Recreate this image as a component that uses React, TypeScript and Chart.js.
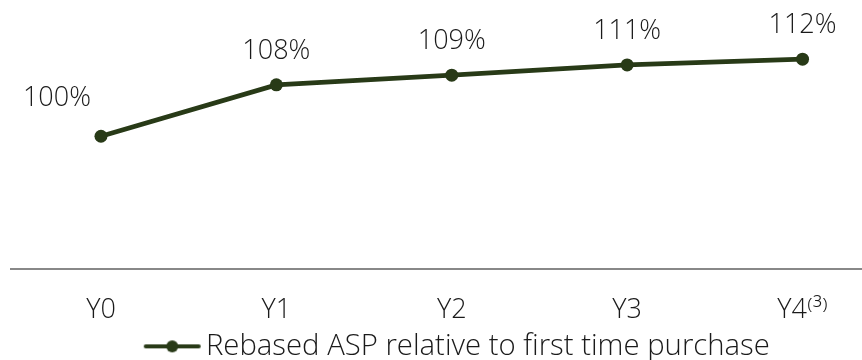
import React, { useEffect, useRef } from "react";
import { Chart, registerables } from "chart.js";

Chart.register(...registerables);

const categories = ["Y0", "Y1", "Y2", "Y3", "Y4\u207D\u00B3\u207E"];
const values = [100, 108, 109.5, 111.1, 112.0];
const valueLabels = ["100%", "108%", "109%", "111%", "112%"];
const seriesName = "Rebased ASP relative to first time purchase";

const LINE_COLOR = "#283a17";
const TEXT_COLOR = "#1a1a1a";
const FONT_FAMILY = "'Open Sans', 'DejaVu Sans', sans-serif";

function makeLegendSymbol(): HTMLCanvasElement {
  const c = document.createElement("canvas");
  c.width = 59;
  c.height = 14;
  const ctx = c.getContext("2d")!;
  ctx.strokeStyle = LINE_COLOR;
  ctx.lineWidth = 4;
  ctx.lineCap = "round";
  ctx.beginPath();
  ctx.moveTo(3, 7);
  ctx.lineTo(56, 7);
  ctx.stroke();
  ctx.fillStyle = LINE_COLOR;
  ctx.beginPath();
  ctx.arc(29.5, 7, 6, 0, Math.PI * 2);
  ctx.fill();
  return c;
}

const valueLabelPlugin = {
  id: "valueLabels",
  afterLayout(chart: any) {
    // nudge the legend row to sit where the reference places it
    if (chart.legend) {
      chart.legend.left += 25;
      chart.legend.right += 25;
    }
  },
  afterDatasetsDraw(chart: any) {
    const meta = chart.getDatasetMeta(0);
    const ctx = chart.ctx;
    ctx.save();
    ctx.font = `300 27px ${FONT_FAMILY}`;
    ctx.fillStyle = TEXT_COLOR;
    ctx.textAlign = "center";
    ctx.textBaseline = "middle";
    meta.data.forEach((pt: any, i: number) => {
      const dx = i === 0 ? -44 : 0;
      const dy = i === 0 ? 38 : 34;
      ctx.fillText(valueLabels[i], pt.x + dx, pt.y - dy);
    });
    ctx.restore();
  },
};

export default function App() {
  const ref = useRef<HTMLCanvasElement | null>(null);
  useEffect(() => {
    document.body.style.margin = "0";
    const canvas = ref.current;
    if (!canvas) return;
    const symbol = makeLegendSymbol();
    const chart = new Chart(canvas, {
      type: "line",
      data: {
        datasets: [
          {
            label: seriesName,
            data: values.map((v, i) => ({ x: i, y: v })),
            borderColor: LINE_COLOR,
            backgroundColor: LINE_COLOR,
            borderWidth: 4.8,
            pointRadius: 6.5,
            pointHoverRadius: 6.5,
            pointBackgroundColor: LINE_COLOR,
            pointBorderWidth: 0,
            tension: 0,
          },
        ],
      },
      options: {
        responsive: true,
        maintainAspectRatio: false,
        animation: false,
        layout: { autoPadding: false, padding: { top: 0, left: 11, right: 0, bottom: -11 } },
        plugins: {
          legend: {
            position: "bottom",
            labels: {
              usePointStyle: true,
              pointStyle: symbol as any,
              pointStyleWidth: 38,
              color: TEXT_COLOR,
              font: { family: FONT_FAMILY, size: 29.3, weight: "300" as any },
              padding: 0,
            },
          },
          tooltip: { enabled: false },
        },
        scales: {
          x: {
            type: "linear",
            min: -0.513,
            max: 4.339,
            grid: { display: false, drawTicks: false },
            border: { display: true, color: "#888888", width: 2 },
            afterBuildTicks: (scale: any) => {
              scale.ticks = categories.map((_, i) => ({ value: i }));
            },
            afterFit: (scale: any) => {
              scale.height = 63;
            },
            ticks: {
              color: TEXT_COLOR,
              font: { family: FONT_FAMILY, size: 27, weight: "300" as any, lineHeight: 1.0 },
              padding: 28,
              maxRotation: 0,
              autoSkip: false,
              callback: (v: any) => categories[Number(v)] ?? "",
            },
          },
          y: {
            display: false,
            min: 79.4,
            max: 121.2,
          },
        },
      },
      plugins: [valueLabelPlugin],
    });
    return () => chart.destroy();
  }, []);
  return (
    <div style={{ position: "relative", width: 862, height: 360 }}>
      <canvas ref={ref} />
    </div>
  );
}
